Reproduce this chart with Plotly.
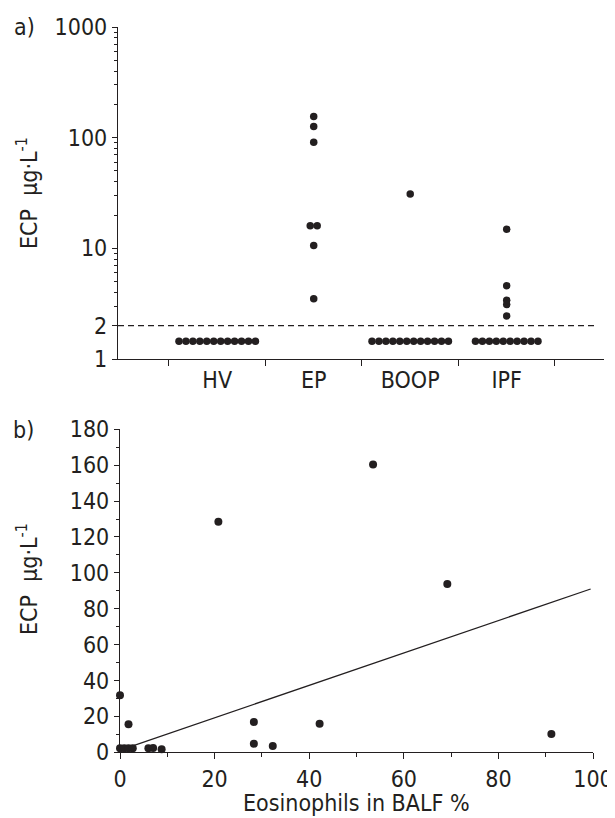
import plotly.graph_objects as go

# the page body keeps an 8px margin, so the figure is drawn 8px smaller
PAD = 8
W, H = 615 - PAD, 818 - PAD
FONT = "DejaVu Sans Condensed, Liberation Sans, sans-serif"
INK = "#231f20"

# panel a: ECP by group (values below detection drawn at 1.45)
groups = ["HV", "EP", "BOOP", "IPF"]
hv_ecp = [1.45, 1.45, 1.45, 1.45, 1.45, 1.45, 1.45, 1.45, 1.45, 1.45, 1.45, 1.45]
ep_ecp = [155, 126, 91, 16, 16, 10.6, 3.5]
boop_ecp = [31, 1.45, 1.45, 1.45, 1.45, 1.45, 1.45, 1.45, 1.45, 1.45, 1.45, 1.45, 1.45]
ipf_ecp = [14.9, 4.6, 3.4, 3.1, 2.45, 1.45, 1.45, 1.45, 1.45, 1.45, 1.45, 1.45, 1.45, 1.45, 1.45]
cutoff = 2

# panel b: ECP vs eosinophils in BALF
eos_pct = [0, 1.8, 0, 0.9, 1.8, 2.7, 6.0, 7.0, 8.8, 20.8, 28.3, 28.3, 32.3, 42.2, 53.5, 69.2, 91.2]
ecp_b = [31.8, 15.6, 2.2, 2.2, 2.2, 2.2, 2.2, 2.4, 1.7, 128.5, 16.9, 4.8, 3.5, 15.9, 160.4, 93.8, 10.2]
fit_x = [1, 99.5]
fit_y = [2.1, 91]


def px(x):
    return (x - PAD) / W


def py(y):
    return 1 - (y - PAD) / H


def swarm(values, center, step=0.072):
    # spread identical values sideways like a dot plot
    xs = []
    counts = {v: values.count(v) for v in values}
    seen = {}
    for v in values:
        k = seen.get(v, 0)
        seen[v] = k + 1
        xs.append(center + (k - (counts[v] - 1) / 2) * step)
    return xs


fig = go.Figure()

for i, vals in enumerate([hv_ecp, ep_ecp, boop_ecp, ipf_ecp]):
    fig.add_trace(go.Scatter(x=swarm(vals, i), y=vals, mode="markers",
                             marker=dict(size=7.5, color=INK),
                             xaxis="x", yaxis="y", showlegend=False, cliponaxis=False))

fig.add_trace(go.Scatter(x=[-1.028, 3.93], y=[cutoff, cutoff], mode="lines",
                         line=dict(color=INK, width=1.2, dash="6px,4px"),
                         xaxis="x", yaxis="y", showlegend=False))

fig.add_trace(go.Scatter(x=fit_x, y=fit_y, mode="lines", line=dict(color=INK, width=1.3),
                         xaxis="x2", yaxis="y2", showlegend=False))
fig.add_trace(go.Scatter(x=eos_pct, y=ecp_b, mode="markers",
                         marker=dict(size=8, color=INK),
                         xaxis="x2", yaxis="y2", showlegend=False, cliponaxis=False))

tickfont = dict(family=FONT, size=23, color=INK)
axis_common = dict(showline=True, linecolor=INK, linewidth=1.3, showgrid=False, zeroline=False,
                   ticks="outside", tickcolor=INK, tickwidth=1.2, tickfont=tickfont,
                   automargin=False)

fig.update_layout(
    width=W, height=H, margin=dict(l=0, r=0, t=0, b=0),
    paper_bgcolor="white", plot_bgcolor="white", showlegend=False,
    xaxis=dict(domain=[px(118), px(604)], range=[-1.028, 4.008], anchor="y",
               tickvals=[0, 1, 2, 3], ticktext=groups, ticklen=0,
               minor=dict(ticks="outside", ticklen=6, tick0=0.5, dtick=1, tickcolor=INK, tickwidth=1.2),
               **axis_common),
    yaxis=dict(domain=[py(359), py(27)], type="log", range=[0, 3], anchor="x",
               tickvals=[1, 2, 10, 100, 1000], ticktext=["1", "2", "10", "100", "1000"], ticklen=5,
               minor=dict(ticks="outside", ticklen=3, tickcolor=INK, tickwidth=1,
                          tickmode="array",
                          tickvals=[3, 4, 5, 6, 7, 8, 9, 20, 30, 40, 50, 60, 70, 80, 90,
                                    200, 300, 400, 500, 600, 700, 800, 900]),
               **axis_common),
    xaxis2=dict(domain=[px(120), px(593)], range=[0, 100], anchor="y2",
                tickvals=[0, 20, 40, 60, 80, 100], ticklen=6,
                minor=dict(ticks="outside", ticklen=4, tick0=10, dtick=20, tickcolor=INK, tickwidth=1),
                **axis_common),
    yaxis2=dict(domain=[py(752.3), py(429.3)], range=[0, 180], anchor="x2",
                tickvals=[0, 20, 40, 60, 80, 100, 120, 140, 160, 180], ticklen=5,
                minor=dict(ticks="outside", ticklen=3, tick0=10, dtick=20, tickcolor=INK, tickwidth=1),
                **axis_common),
)

ann_font = dict(family=FONT, size=23, color=INK)
ytitle = "ECP\u00a0\u00a0µg·L<sup>-1</sup>"
fig.add_annotation(x=px(27), y=py(193), xref="paper", yref="paper", text=ytitle,
                   textangle=-90, showarrow=False, font=ann_font, xanchor="center", yanchor="middle")
fig.add_annotation(x=px(27), y=py(579), xref="paper", yref="paper", text=ytitle,
                   textangle=-90, showarrow=False, font=ann_font, xanchor="center", yanchor="middle")
fig.add_annotation(x=px(356), y=py(803), xref="paper", yref="paper", text="Eosinophils in BALF %",
                   showarrow=False, font=ann_font, xanchor="center", yanchor="middle")
fig.add_annotation(x=px(24), y=py(27), xref="paper", yref="paper", text="a)",
                   showarrow=False, font=ann_font, xanchor="center", yanchor="middle")
fig.add_annotation(x=px(23), y=py(430), xref="paper", yref="paper", text="b)",
                   showarrow=False, font=ann_font, xanchor="center", yanchor="middle")

fig.write_html("out.html")
